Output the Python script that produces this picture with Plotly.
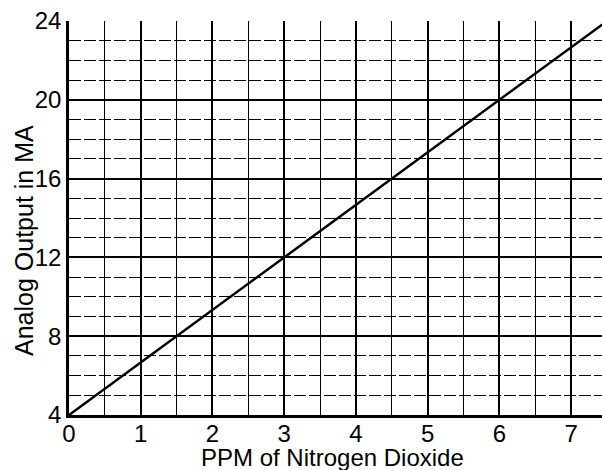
import plotly.graph_objects as go

ppm = [0, 7.5]
output_ma = [4, 24]
x_ticks = [0, 1, 2, 3, 4, 5, 6, 7]
y_ticks = [4, 8, 12, 16, 20, 24]

fig = go.Figure()
fig.add_trace(go.Scatter(x=ppm, y=output_ma, mode="lines",
                         line=dict(color="black", width=2.5), showlegend=False,
                         cliponaxis=True))

font = dict(family="Liberation Sans, Arial, sans-serif", color="black")

fig.update_layout(
    width=602, height=470,
    margin=dict(l=69, r=0, t=21, b=55, autoexpand=False),
    paper_bgcolor="white", plot_bgcolor="white",
    font=font,
    xaxis=dict(range=[0, 7.43], tickvals=x_ticks, ticktext=[str(v) for v in x_ticks],
               showgrid=True, gridcolor="black", gridwidth=2,
               minor=dict(dtick=0.5, showgrid=True, gridcolor="black", gridwidth=1),
               zeroline=False, showline=True, linecolor="black", linewidth=2.5,
               ticks="", tickfont=dict(size=24, **font), automargin=False,
               ticklabelstandoff=-5),
    yaxis=dict(range=[4, 24], tickvals=y_ticks, ticktext=[str(v) for v in y_ticks],
               showgrid=True, gridcolor="black", gridwidth=2,
               minor=dict(dtick=1, showgrid=True, gridcolor="black", gridwidth=1,
                          griddash="12px,3px"),
               zeroline=False, showline=True, linecolor="black", linewidth=2.5, mirror=True,
               ticks="", tickfont=dict(size=24, **font), automargin=False),
    annotations=[
        dict(text="PPM of Nitrogen Dioxide", xref="paper", yref="paper",
             x=(332 - 69) / 533, y=(415 - 457) / 394, xanchor="center", yanchor="middle",
             showarrow=False, font=dict(size=24, **font)),
        dict(text="Analog Output in MA", xref="paper", yref="paper", textangle=-90,
             x=(24 - 69) / 533, y=(415 - 241) / 394, xanchor="center", yanchor="middle",
             showarrow=False, font=dict(size=25, **font)),
    ],
)

fig.write_html("out.html", post_script="document.body.style.margin='0';",
               config={"displayModeBar": False})
